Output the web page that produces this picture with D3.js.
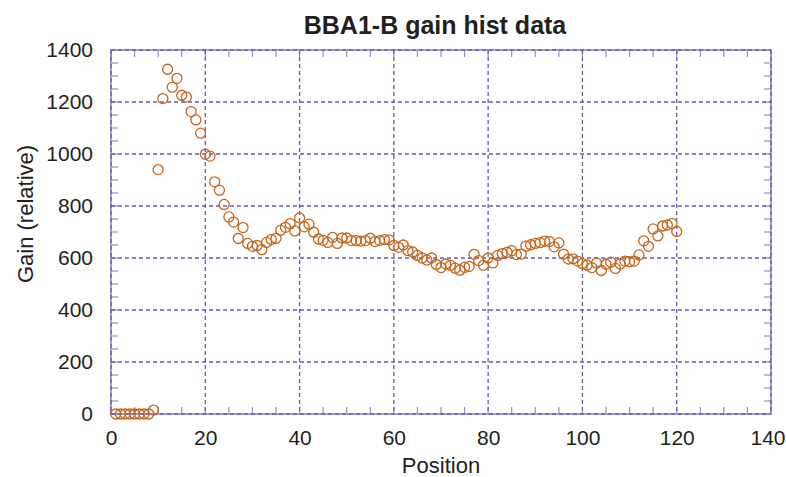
<!DOCTYPE html>
<html>
<head>
<meta charset="utf-8">
<script src="https://cdn.jsdelivr.net/npm/d3@7"></script>
<style>
  body { margin: 0; background: #fff; }
  text { font-family: "Liberation Sans", Arial, Helvetica, sans-serif; fill: #231f20; }
</style>
</head>
<body>
<div id="chart"></div>
<script>
// positions along the strip (1..120)
const positions = d3.range(1, 121);

// gain values, one per position
const gains = [
    0, 0, 0, 0, 0, 0, 0, 0, 15, 940,
    1213, 1326, 1257, 1291, 1226, 1219, 1163, 1131, 1080, 999,
    992, 893, 861, 806, 758, 738, 675, 717, 656, 645,
    648, 632, 660, 671, 676, 707, 718, 732, 704, 754,
    720, 730, 699, 673, 668, 660, 679, 656, 677, 677,
    667, 667, 665, 667, 676, 663, 667, 671, 670, 648,
    641, 650, 628, 623, 610, 600, 592, 600, 575, 563,
    577, 572, 561, 553, 564, 568, 614, 590, 572, 600,
    581, 610, 617, 622, 628, 613, 615, 646, 651, 656,
    659, 665, 663, 643, 658, 615, 596, 597, 588, 578,
    573, 563, 581, 552, 576, 584, 560, 577, 588, 586,
    588, 612, 666, 645, 712, 685, 723, 727, 733, 702
];

const xTicks = [0, 20, 40, 60, 80, 100, 120, 140];
const yTicks = [0, 200, 400, 600, 800, 1000, 1200, 1400];

const title = "BBA1-B gain hist data";
const xLabel = "Position";
const yLabel = "Gain (relative)";

const W = 786, H = 477;
const margin = { top: 50, right: 15, bottom: 63, left: 111 },
    width = W - margin.left - margin.right,
    height = H - margin.top - margin.bottom;

const svg = d3.select("#chart")
    .append("svg")
    .attr("width", W)
    .attr("height", H);

const g = svg.append("g")
    .attr("transform", `translate(${margin.left},${margin.top})`);

const x = d3.scaleLinear().domain([0, 140]).range([0, width]);
const y = d3.scaleLinear().domain([0, 1400]).range([height, 0]);

const frameColor = "#8e7fc2";
const gridColor = "#6b59a9";

// frame
g.append("rect")
    .attr("x", 0).attr("y", 0)
    .attr("width", width).attr("height", height)
    .attr("fill", "none")
    .attr("stroke", frameColor)
    .attr("stroke-width", 1.5);

// minor + major ticks, inward on all four sides
const xMinor = d3.range(0, 141, 5);
const yMinor = d3.range(0, 1401, 50);
const tickLen = 7;

const ticks = g.append("g")
    .attr("stroke", "#9a8cc8")
    .attr("stroke-width", 1.2);

ticks.selectAll(".xb").data(xMinor).join("line")
    .attr("x1", d => x(d)).attr("x2", d => x(d))
    .attr("y1", height).attr("y2", height - tickLen);
ticks.selectAll(".xt").data(xMinor).join("line")
    .attr("x1", d => x(d)).attr("x2", d => x(d))
    .attr("y1", 0).attr("y2", tickLen);
ticks.selectAll(".yl").data(yMinor).join("line")
    .attr("y1", d => y(d)).attr("y2", d => y(d))
    .attr("x1", 0).attr("x2", tickLen);
ticks.selectAll(".yr").data(yMinor).join("line")
    .attr("y1", d => y(d)).attr("y2", d => y(d))
    .attr("x1", width).attr("x2", width - tickLen);

// dashed grid at major ticks
const grid = g.append("g")
    .attr("stroke", gridColor)
    .attr("stroke-width", 1.3)
    .attr("stroke-dasharray", "4,3");

grid.selectAll(".gx").data(xTicks).join("line")
    .attr("x1", d => x(d)).attr("x2", d => x(d))
    .attr("y1", 0).attr("y2", height);
grid.selectAll(".gy").data(yTicks).join("line")
    .attr("y1", d => y(d)).attr("y2", d => y(d))
    .attr("x1", 0).attr("x2", width);

// axes labels via d3 axes (no domain / tick lines)
const xAxis = g.append("g")
    .attr("transform", `translate(0,${height})`)
    .call(d3.axisBottom(x).tickValues(xTicks).tickFormat(d3.format("d")).tickSize(0).tickPadding(16));
const yAxis = g.append("g")
    .call(d3.axisLeft(y).tickValues(yTicks).tickFormat(d3.format("d")).tickSize(0).tickPadding(18));

[xAxis, yAxis].forEach(a => {
    a.select(".domain").remove();
    a.selectAll("text")
        .attr("font-family", "Liberation Sans, Arial, sans-serif")
        .attr("font-size", 21)
        .attr("fill", "#231f20");
});

// keep the last x label inside the window
xAxis.selectAll(".tick")
    .filter(d => d === 140)
    .select("text")
    .attr("text-anchor", "end")
    .attr("dx", 14);

// data points
g.append("g")
    .selectAll("circle")
    .data(positions.map((p, i) => ({ p: p, v: gains[i] })))
    .join("circle")
    .attr("cx", d => x(d.p))
    .attr("cy", d => y(d.v))
    .attr("r", 5)
    .attr("fill", "none")
    .attr("stroke", "#c4651c")
    .attr("stroke-width", 1.3);

// title and axis titles
svg.append("text")
    .attr("x", 435).attr("y", 34)
    .attr("text-anchor", "middle")
    .attr("font-size", 25)
    .attr("font-weight", "bold")
    .text(title);

svg.append("text")
    .attr("x", margin.left + width / 2).attr("y", 473)
    .attr("text-anchor", "middle")
    .attr("font-size", 22)
    .text(xLabel);

svg.append("text")
    .attr("transform", "translate(33,214) rotate(-90)")
    .attr("text-anchor", "middle")
    .attr("font-size", 22)
    .text(yLabel);
</script>
</body>
</html>
